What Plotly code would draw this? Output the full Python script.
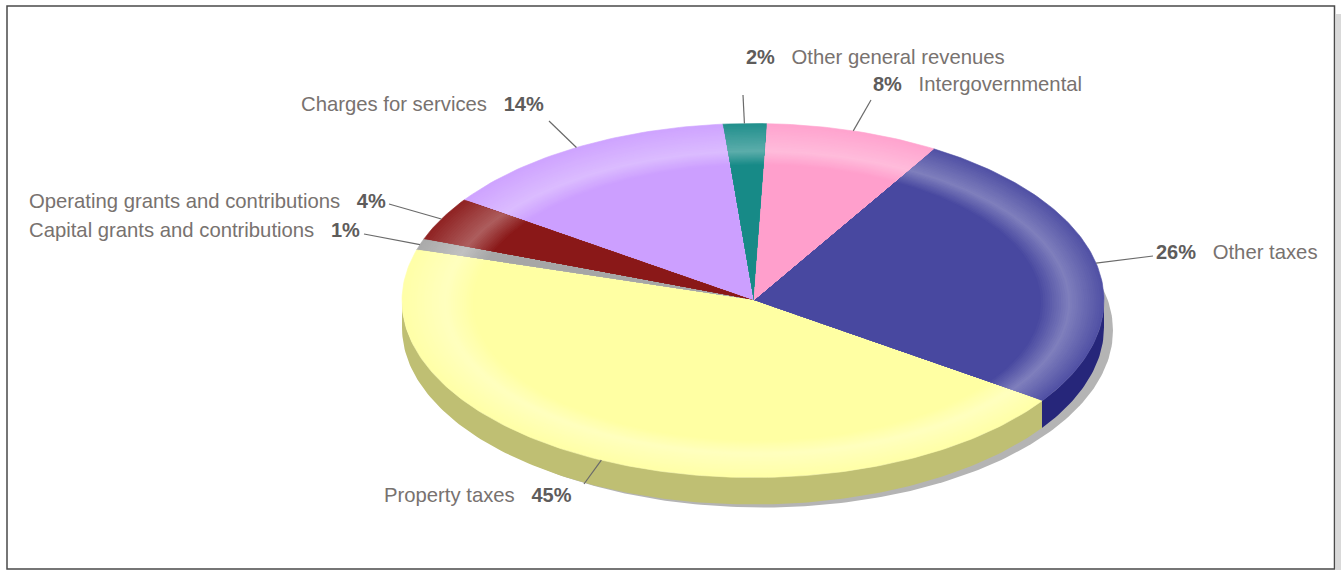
import math
import plotly.graph_objects as go

# ---- data ----
categories = ["Other taxes", "Intergovernmental", "Other general revenues", "Charges for services",
              "Operating grants and contributions", "Capital grants and contributions", "Property taxes"]
shares = [26, 8, 2, 14, 4, 1, 45]
top_colors = ["#4848a0", "#ff9fcc", "#178a87", "#cc9fff", "#8a1818", "#a6a6a6", "#ffffa3"]
side_colors = ["#26267a", "#bf7799", "#116866", "#9977bf", "#681212", "#7c7c7c", "#bfbf73"]
pct_labels = ["26%", "8%", "2%", "14%", "4%", "1%", "45%"]

# ---- layout constants (pixels of the page) ----
W, H = 1341, 570
CX, CY, RX, RY = 753.0, 300.5, 351.0, 177.0
DEPTH = 27.0
START_ANGLE = -34.6
PEAK = (313.0, 152.0)
INNER = (284.0, 138.0)
BEVEL_SHIFT = (4.0, -2.0)
EDGE_LIGHT, PEAK_LIGHT = 0.05, 0.30
RINGS = 30

# where each label's leader line ends, and how its text sits
leader_ends = [(1153, 256), (871, 100), (743, 95), (549, 121), (389, 204), (364, 234), (584, 484)]
label_pos = [(1156, 252, "left"), (873, 84, "left"), (746, 57, "left"), (544, 104, "right"),
             (386, 201, "right"), (360, 230, "right"), (572, 495, "right")]
pct_first = [True, True, True, False, False, False, False]
NAME_COLOR, PCT_COLOR, LEADER_COLOR = "#78726f", "#5e5c5b", "#6a6a6a"
NAME_SIZE, PCT_SIZE = 20.3, 20


def rgb(h):
    return tuple(int(h[i:i + 2], 16) for i in (1, 3, 5))


def lighten(h, f):
    return "rgb(%d,%d,%d)" % tuple(round(c + (255 - c) * f) for c in rgb(h))


def arc_angles(a0, a1, step=1.0):
    n = max(2, int(abs(a1 - a0) / step) + 1)
    return [a0 + (a1 - a0) * i / (n - 1) for i in range(n)]


def on_ring(deg, a, b, ox=0.0, oy=0.0):
    """Point of the ellipse (a,b), centred off by (ox,oy), on the ray that hits the rim at angle deg."""
    dx, dy = RX * math.cos(math.radians(deg)), RY * math.sin(math.radians(deg))
    qa = (dx / a) ** 2 + (dy / b) ** 2
    qb = -2 * (dx * ox / a ** 2 + dy * oy / b ** 2)
    qc = (ox / a) ** 2 + (oy / b) ** 2 - 1
    s = (-qb + math.sqrt(qb ** 2 - 4 * qa * qc)) / (2 * qa)
    return CX + dx * s, CY - dy * s


def poly(xs, ys, color, width=0):
    return go.Scatter(x=xs, y=ys, mode="lines", fill="toself", fillcolor=color,
                      line=dict(color=color, width=width), hoverinfo="skip", showlegend=False)


fig = go.Figure()

# drop shadow
sh = arc_angles(0, 360)
fig.add_trace(poly([CX + 9 + RX * math.cos(math.radians(t)) for t in sh],
                   [CY + DEPTH + 3 - RY * math.sin(math.radians(t)) for t in sh], "#b4b4b4"))

# slice spans from the values
total = sum(shares)
spans = []
ang = START_ANGLE
for v in shares:
    spans.append((ang, ang + v / total * 360))
    ang += v / total * 360

# side wall: only the part of the rim facing the viewer
for (a0, a1), col in zip(spans, side_colors):
    for k in (-1, 0):
        lo, hi = max(a0, 180 + 360 * k), min(a1, 360 + 360 * k)
        if hi <= lo:
            continue
        ts = arc_angles(lo, hi)
        xs = [on_ring(t, RX, RY)[0] for t in ts]
        ys = [on_ring(t, RX, RY)[1] for t in ts]
        fig.add_trace(poly(xs + xs[::-1], ys + [y + DEPTH for y in ys[::-1]], col))


def ring_style(t):
    """t=0 rim, t=1 inner end of the bevel: returns radii, centre shift and lightening."""
    peak_t = 0.57
    ox, oy = BEVEL_SHIFT[0] * min(1, t / peak_t), BEVEL_SHIFT[1] * min(1, t / peak_t)
    if t <= peak_t:
        u = t / peak_t
        a = RX + (PEAK[0] - RX) * u
        b = RY + (PEAK[1] - RY) * u
        f = EDGE_LIGHT + (PEAK_LIGHT - EDGE_LIGHT) * u
    else:
        u = (t - peak_t) / (1 - peak_t)
        a = PEAK[0] + (INNER[0] - PEAK[0]) * u
        b = PEAK[1] + (INNER[1] - PEAK[1]) * u
        f = PEAK_LIGHT * (1 - u)
    return a, b, ox, oy, f


# top face: bevel rings drawn outermost first
for (a0, a1), col in zip(spans, top_colors):
    ts = arc_angles(a0, a1)
    for i in range(RINGS + 1):
        a, b, ox, oy, f = ring_style(i / RINGS)
        pts = [on_ring(t, a, b, ox, oy) for t in ts]
        fig.add_trace(poly([CX] + [p[0] for p in pts] + [CX], [CY] + [p[1] for p in pts] + [CY],
                           lighten(col, f), width=0.6 if i == 0 else 0))

# leader lines from the middle of each slice's rim
for (a0, a1), (ex, ey) in zip(spans, leader_ends):
    mx, my = on_ring((a0 + a1) / 2, RX, RY)
    fig.add_trace(go.Scatter(x=[mx, ex], y=[my, ey], mode="lines", hoverinfo="skip", showlegend=False,
                             line=dict(color=LEADER_COLOR, width=1.2)))

# labels
for name, pct, (x, y, anchor), first in zip(categories, pct_labels, label_pos, pct_first):
    n = f'<span style="color:{NAME_COLOR};font-size:{NAME_SIZE}px">{name}</span>'
    b = f'<b style="color:{PCT_COLOR}">{pct}</b>'
    fig.add_annotation(x=x, y=y, xref="x", yref="y", xanchor=anchor, yanchor="middle", showarrow=False,
                       text=(b + "   " + n) if first else (n + "   " + b),
                       font=dict(family="Liberation Sans", size=PCT_SIZE), borderpad=0, borderwidth=0)

fig.update_layout(
    width=W, height=H, margin=dict(l=0, r=0, t=0, b=0), paper_bgcolor="white", plot_bgcolor="white",
    xaxis=dict(range=[0, W], visible=False, fixedrange=True),
    yaxis=dict(range=[H, 0], visible=False, fixedrange=True),
    showlegend=False,
    shapes=[
        dict(type="rect", xref="x", yref="y", x0=1336, x1=W, y0=14, y1=H, fillcolor="#d9d9d9", line_width=0, layer="below"),
        dict(type="rect", xref="x", yref="y", x0=7, x1=1334.5, y0=6, y1=569, fillcolor="white",
             line=dict(color="#4a4a4a", width=1.5), layer="below"),
    ],
)
fig.write_html("out.html", post_script="document.body.style.margin='0';document.body.style.overflow='hidden';",
               config=dict(displayModeBar=False))
